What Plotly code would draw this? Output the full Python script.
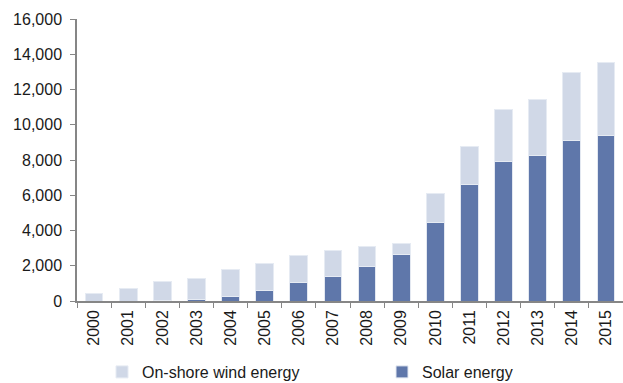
import plotly.graph_objects as go

years = [str(y) for y in range(2000, 2016)]
solar = [0, 0, 50, 110, 250, 580, 1040, 1400, 1930, 2650, 4430, 6620, 7900, 8250, 9130, 9380]
total = [400, 720, 1130, 1270, 1760, 2120, 2570, 2840, 3100, 3250, 6090, 8780, 10880, 11440, 12940, 13540]
wind = [t - s for t, s in zip(total, solar)]

FONT = "Liberation Sans, Arial, sans-serif"
W, H = 623, 383
fig = go.Figure()
fig.add_bar(x=years, y=solar, name="Solar energy", legend="legend2",
            marker=dict(color="#5f77aa", line=dict(color="#e3e8f1", width=1)))
fig.add_bar(x=years, y=wind, name="On-shore wind energy", legend="legend",
            marker=dict(color="#d0d8e7", line=dict(color="#e6ebf3", width=1)))

leg_common = dict(orientation="h", xref="container", yref="container", xanchor="left", yanchor="middle",
                  y=(H - 372) / H, font=dict(size=16, family=FONT, color="#1a1a1a"),
                  bgcolor="rgba(0,0,0,0)")
fig.update_layout(
    width=W, height=H,
    barmode="stack", bargap=0.48,
    plot_bgcolor="white", paper_bgcolor="white",
    margin=dict(l=77, r=0, t=19, b=82, autoexpand=False),
    font=dict(family=FONT, color="#1a1a1a"),
    showlegend=True,
    legend=dict(x=102 / W, **leg_common),
    legend2=dict(x=382 / W, **leg_common),
)
fig.update_yaxes(range=[0, 16000], dtick=2000, tickformat=",", showgrid=False, zeroline=False,
                 showline=True, linecolor="#868686", linewidth=1.5, ticks="outside", ticklen=5, tickcolor="#868686",
                 tickfont=dict(size=16, family=FONT), automargin=False, ticklabelstandoff=5)
fig.update_xaxes(type="category", tickangle=-90, showline=True, linecolor="#868686", linewidth=1.5,
                 ticks="outside", tickson="boundaries", ticklen=5, tickcolor="#868686",
                 tickfont=dict(size=16, family=FONT), automargin=False, ticklabelstandoff=1)

fig.write_html("out.html", config={"displayModeBar": False},
               post_script="document.body.style.margin='0';document.body.style.overflow='hidden';")
